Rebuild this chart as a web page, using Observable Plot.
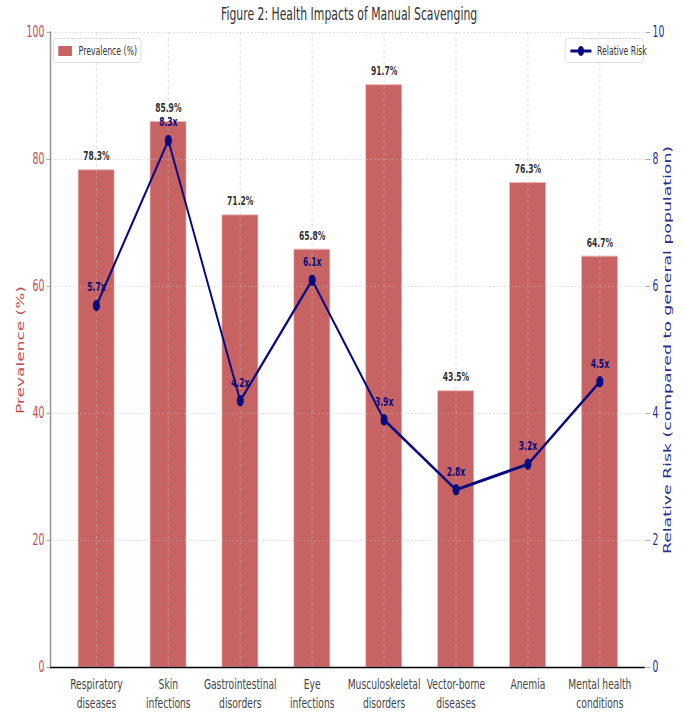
<!DOCTYPE html>
<html>
<head>
<meta charset="utf-8">
<script src="https://cdn.jsdelivr.net/npm/d3@7"></script>
<script src="https://cdn.jsdelivr.net/npm/@observablehq/plot@0.6"></script>
<style>
  html, body { margin: 0; background: #fff; overflow: hidden; }
  #outer { width: 685px; height: 713px; overflow: hidden; position: relative; }
  #wrap { position: absolute; left: 0; top: 0; width: 1105px; height: 713px; transform: scaleX(0.62); transform-origin: 0 0; font-family: "DejaVu Sans", sans-serif; }
  #title { position: absolute; top: 4px; left: 0; width: 1126px; text-align: center; font-size: 17.5px; color: #333; white-space: nowrap; }
  .legend { position: absolute; top: 38px; height: 25px; border: 1px solid #d8d8d8; border-radius: 4px; background: rgba(255,255,255,0.85); font-size: 12.5px; color: #333; display: flex; align-items: center; box-sizing: border-box; padding: 0 6px 0 7px; white-space: nowrap; }
  svg { overflow: visible; }
</style>
</head>
<body>
<div id="outer">
<div id="wrap">
  <div id="chart"></div>
  <div id="title">Figure 2: Health Impacts of Manual Scavenging</div>
  <div class="legend" style="left:86px;width:142px;">
    <span style="display:inline-block;width:33px;height:10px;background:#c76363;margin-right:11px;"></span>Prevalence (%)
  </div>
  <div class="legend" style="left:911px;width:127px;">
    <svg width="36" height="12" style="margin-right:8px"><line x1="1" y1="6" x2="35" y2="6" stroke="#0a0a80" stroke-width="3"/><circle cx="18" cy="6" r="5" fill="#0a0a80"/></svg>Relative Risk
  </div>
</div>
</div>
<script>
const categories = ["Respiratory diseases", "Skin infections", "Gastrointestinal disorders", "Eye infections", "Musculoskeletal disorders", "Vector-borne diseases", "Anemia", "Mental health conditions"];
const tickLabels = ["Respiratory\ndiseases", "Skin\ninfections", "Gastrointestinal\ndisorders", "Eye\ninfections", "Musculoskeletal\ndisorders", "Vector-borne\ndiseases", "Anemia", "Mental health\nconditions"];
const prevalence = [78.3, 85.9, 71.2, 65.8, 91.7, 43.5, 76.3, 64.7];
const relativeRisk = [5.7, 8.3, 4.2, 6.1, 3.9, 2.8, 3.2, 4.5];
const leftTicks = [0, 20, 40, 60, 80, 100];
const rightTicks = [0, 2, 4, 6, 8, 10];

const data = categories.map((c, i) => ({cat: c, prev: prevalence[i], rr: relativeRisk[i], rrScaled: relativeRisk[i] * 10}));
const labelOf = new Map(categories.map((c, i) => [c, tickLabels[i]]));

const RED = "#c76363";
const RED_TXT = "#c44a4a";
const NAVY = "#0a0a80";
const AXNAVY = "#2a2a90";
const FONT = "'DejaVu Sans', sans-serif";

const chart = Plot.plot({
  width: 1105,
  height: 713,
  marginTop: 32,
  marginBottom: 46,
  marginLeft: 81,
  marginRight: 65,
  style: {fontFamily: FONT, fontSize: "14px", overflow: "visible", background: "transparent"},
  x: {type: "band", domain: categories, paddingInner: 0.5, paddingOuter: 0.35, axis: null},
  y: {domain: [0, 100], axis: null},
  marks: [
    Plot.barY(data, {x: "cat", y: "prev", fill: RED, stroke: "#eab4b4", strokeWidth: 1}),
    Plot.gridY(leftTicks, {stroke: "#bbb", strokeOpacity: 0.6, strokeDasharray: "3,3"}),
    Plot.gridX(categories, {stroke: "#bbb", strokeOpacity: 0.6, strokeDasharray: "3,3"}),
    Plot.frame({anchor: "left", stroke: "#999", strokeWidth: 2.5}),
    Plot.ruleY([0], {stroke: "#000", strokeWidth: 1.5}),
    Plot.axisY({anchor: "left", ticks: leftTicks, tickSize: 6, tickPadding: 4, stroke: "#999", fill: RED_TXT, fontSize: 15, label: null}),
    Plot.axisY({anchor: "right", ticks: rightTicks.map(d => d * 10), tickFormat: d => String(d / 10), tickSize: 8, tickPadding: 4, stroke: "#999", fill: AXNAVY, fontSize: 15, label: null}),
    Plot.axisX({anchor: "bottom", tickSize: 0, tickPadding: 8, tickFormat: d => labelOf.get(d), fill: "#444", fontSize: 14.8, lineHeight: 1.3, label: null}),
    Plot.text(["Prevalence (%)"], {frameAnchor: "left", textAnchor: "middle", dx: -48, rotate: -90, fill: RED_TXT, fontSize: 17}),
    Plot.text(["Relative Risk (compared to general population)"], {frameAnchor: "right", textAnchor: "middle", dx: 37, rotate: -90, fill: AXNAVY, fontSize: 17.3}),
    Plot.line(data, {x: "cat", y: "rrScaled", stroke: NAVY, strokeWidth: 3}),
    Plot.dot(data, {x: "cat", y: "rrScaled", r: 5, fill: NAVY, stroke: NAVY}),
    Plot.text(data, {x: "cat", y: "prev", text: d => d.prev.toFixed(1) + "%", dy: -14, fill: "#333", fontWeight: "bold", fontSize: 12.3}),
    Plot.text(data, {x: "cat", y: "rrScaled", text: d => d.rr.toFixed(1) + "x", dy: -18, fill: NAVY, fontWeight: "bold", fontSize: 12.3})
  ]
});
document.getElementById("chart").appendChild(chart);
</script>
</body>
</html>
